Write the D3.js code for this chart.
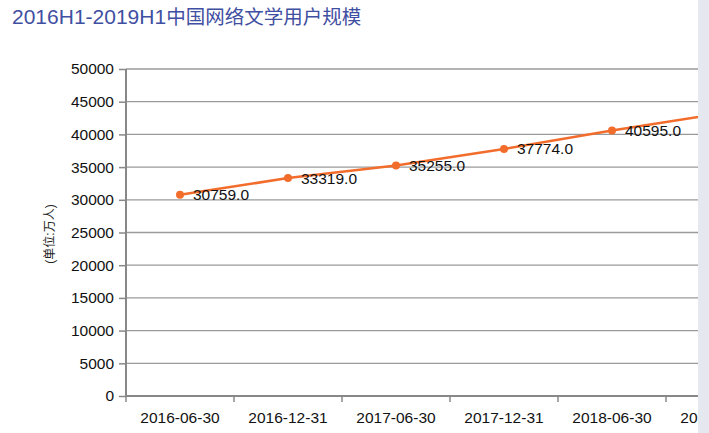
<!DOCTYPE html>
<html>
<head>
<meta charset="utf-8">
<script src="https://cdn.jsdelivr.net/npm/d3@7"></script>
<style>
  html, body { margin: 0; padding: 0; background: #fff; }
  svg { display: block; }
</style>
</head>
<body>
<svg id="chart" width="709" height="433"></svg>
<script>
const titleText = "2016H1-2019H1中国网络文学用户规模";
const yAxisTitle = "(单位:万人)";
const categories = ["2016-06-30", "2016-12-31", "2017-06-30", "2017-12-31", "2018-06-30", "2018-12-31", "2019-06-30"];
const users = [30759, 33319, 35255, 37774, 40595, 43201, 45454];
const yTicks = [0, 5000, 10000, 15000, 20000, 25000, 30000, 35000, 40000, 45000, 50000];

(function () {
const svg = d3.select("#chart");
const W = 709, H = 433;
const plotLeft = 126, plotTop = 69, plotBottom = 396, clipRight = 698;
const step = 108;

// right gray panel
svg.append("rect").attr("x", clipRight).attr("y", 0).attr("width", W - clipRight).attr("height", H).attr("fill", "#e5e8ef");

// title
const t = svg.append("text").attr("x", 12).attr("y", 24)
  .attr("font-family", "'Liberation Sans', Arial, 'Noto Sans CJK SC', sans-serif")
  .attr("font-size", 21).attr("fill", "#3f4fa2");
const m = titleText.match(/^([\x00-\x7f]+)(.*)$/);
t.append("tspan").text(m[1]);
t.append("tspan").attr("font-size", 19.5).attr("font-family", "'Noto Sans CJK SC', sans-serif").text(m[2]);

const x = d3.scaleBand().domain(categories).range([plotLeft, plotLeft + step * categories.length]).paddingInner(0).paddingOuter(0);
const y = d3.scaleLinear().domain([0, 50000]).range([plotBottom, plotTop]);

svg.append("defs").append("clipPath").attr("id", "clip")
  .append("rect").attr("x", 0).attr("y", 0).attr("width", clipRight).attr("height", H);

const g = svg.append("g").attr("clip-path", "url(#clip)");

// gridlines
g.selectAll("line.grid").data(yTicks.filter(d => d > 0)).join("line")
  .attr("class", "grid")
  .attr("x1", plotLeft).attr("x2", clipRight)
  .attr("y1", d => y(d)).attr("y2", d => y(d))
  .attr("stroke", "#9a9a9a").attr("stroke-width", 1.3);

// y axis
const yAxis = d3.axisLeft(y).tickValues(yTicks).tickSize(7).tickPadding(5).tickFormat(d3.format("d"));
const yg = g.append("g").attr("transform", `translate(${plotLeft},0)`).call(yAxis);
yg.select(".domain").remove();
yg.selectAll(".tick line").attr("stroke", "#888").attr("stroke-width", 1.5);
yg.selectAll(".tick text").attr("font-family", "'Liberation Sans', Arial, sans-serif").attr("font-size", 15.5).attr("fill", "#111");

// x axis
const xAxis = d3.axisBottom(x).tickSize(0).tickPadding(16);
const xg = g.append("g").attr("transform", `translate(0,${plotBottom})`).call(xAxis);
xg.select(".domain").remove();
xg.selectAll(".tick").filter(d => x(d) > clipRight).remove();
xg.selectAll(".tick text").attr("font-family", "'Liberation Sans', Arial, sans-serif").attr("font-size", 15.5).attr("fill", "#111");
// boundary ticks
const bounds = d3.range(categories.length + 1).map(i => plotLeft + i * step).filter(v => v <= clipRight);
g.selectAll("line.xt").data(bounds).join("line")
  .attr("class", "xt")
  .attr("x1", d => d).attr("x2", d => d)
  .attr("y1", plotBottom).attr("y2", plotBottom + 6)
  .attr("stroke", "#888").attr("stroke-width", 1.5);

// axis lines
g.append("line").attr("x1", plotLeft).attr("x2", clipRight).attr("y1", plotBottom).attr("y2", plotBottom)
  .attr("stroke", "#888").attr("stroke-width", 2);
g.append("line").attr("x1", plotLeft).attr("x2", plotLeft).attr("y1", plotTop).attr("y2", plotBottom)
  .attr("stroke", "#888").attr("stroke-width", 2);

// line
const cx = d => x(d) + x.bandwidth() / 2;
const pts = categories.map((c, i) => [cx(c), y(users[i]), users[i]]);
g.append("path").attr("d", d3.line()(pts.map(p => [p[0], p[1]]))).attr("fill", "none")
  .attr("stroke", "#f26c2c").attr("stroke-width", 2.5);
const vis = pts.filter(p => p[0] < clipRight);
g.selectAll("circle.pt").data(vis).join("circle")
  .attr("class", "pt").attr("cx", d => d[0]).attr("cy", d => d[1]).attr("r", 4)
  .attr("fill", "#f26c2c");
g.selectAll("text.lbl").data(vis).join("text")
  .attr("class", "lbl")
  .attr("x", d => d[0] + 13).attr("y", d => d[1]).attr("dy", "0.35em")
  .attr("font-family", "'Liberation Sans', Arial, sans-serif").attr("font-size", 15.5).attr("fill", "#111")
  .text(d => d[2].toFixed(1));

// y axis title
svg.append("text")
  .attr("transform", `translate(50,234) rotate(-90)`)
  .attr("text-anchor", "middle").attr("dy", "0.35em")
  .attr("font-family", "'Liberation Sans', Arial, 'Noto Sans CJK SC', sans-serif")
  .attr("font-size", 12).attr("fill", "#222").text(yAxisTitle);
})();
</script>
</body>
</html>
